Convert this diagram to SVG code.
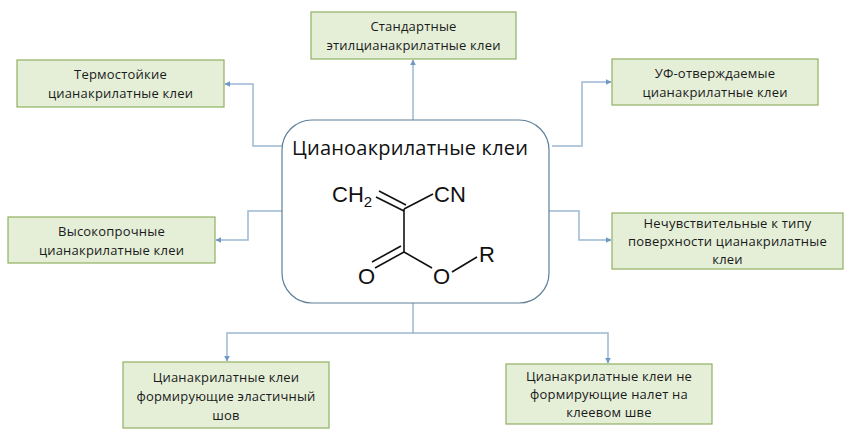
<svg xmlns="http://www.w3.org/2000/svg" width="853" height="438" viewBox="0 0 853 438">
<style>
.box{fill:#e5efd8;stroke:#8fb062;stroke-width:1.2}
.lbl{font-family:"Open Sans","Liberation Sans",sans-serif;font-size:13px;fill:#1a1a1a;text-anchor:middle;letter-spacing:0.2px}
.con{fill:none;stroke:#9cb8d3;stroke-width:1.5}
.chem{font-family:"Liberation Sans",Arial,sans-serif;font-size:22px;fill:#111}
.bond{stroke:#111;stroke-width:1.6;fill:none}
</style>
<defs>
<marker id="ah" viewBox="0 0 10 10" refX="9" refY="5" markerWidth="6" markerHeight="6" markerUnits="userSpaceOnUse" orient="auto">
<path d="M0,0 L10,5 L0,10 z" fill="#6e98c5"/>
</marker>
</defs>
<rect width="853" height="438" fill="#fff"/>
<g id="connectors">
<path class="con" d="M413,120 V60" marker-end="url(#ah)"/>
<path class="con" d="M282,146 H253 V84 H225" marker-end="url(#ah)"/>
<path class="con" d="M552,146 H582 V82 H611" marker-end="url(#ah)"/>
<path class="con" d="M549,211 H579 V240 H611" marker-end="url(#ah)"/>
<path class="con" d="M282,211 H248 V240 H216" marker-end="url(#ah)"/>
<path class="con" d="M413,303 V333 H227 V361" marker-end="url(#ah)"/>
<path class="con" d="M413,333 H608 V363" marker-end="url(#ah)"/>
</g>
<g id="center">
<rect x="282" y="120" width="267" height="183" rx="30" ry="30" fill="#fff" stroke="#5f7f98" stroke-width="1.2"/>
<text x="292" y="155" font-family="'Open Sans','Liberation Sans',sans-serif" font-size="20" fill="#111" textLength="236">Цианоакрилатные клеи</text>
<text class="chem" x="332" y="202">CH<tspan font-size="15" dy="5">2</tspan></text>
<text class="chem" x="434" y="202">CN</text>
<text class="chem" x="358" y="284">O</text>
<text class="chem" x="433" y="284">O</text>
<text class="chem" x="479" y="262">R</text>
<line class="bond" x1="376" y1="197" x2="404" y2="211"/>
<line class="bond" x1="379" y1="191" x2="406" y2="205"/>
<line class="bond" x1="404" y1="209" x2="433" y2="194"/>
<line class="bond" x1="404" y1="209" x2="404" y2="252"/>
<line class="bond" x1="404" y1="252" x2="375" y2="268"/>
<line class="bond" x1="401" y1="246" x2="372" y2="262"/>
<line class="bond" x1="404" y1="252" x2="432" y2="268"/>
<line class="bond" x1="452" y1="272" x2="477" y2="257"/>
</g>
<g id="n1">
<rect class="box" x="311" y="12" width="205" height="47"/>
<text class="lbl" x="413.5" y="31">Стандартные</text>
<text class="lbl" x="413.5" y="50">этилцианакрилатные клеи</text>
</g>
<g id="n2">
<rect class="box" x="17" y="60" width="207" height="47"/>
<text class="lbl" x="120.5" y="79">Термостойкие</text>
<text class="lbl" x="120.5" y="98">цианакрилатные клеи</text>
</g>
<g id="n3">
<rect class="box" x="612" y="59" width="206" height="46"/>
<text class="lbl" x="715" y="78">УФ-отверждаемые</text>
<text class="lbl" x="715" y="97">цианакрилатные клеи</text>
</g>
<g id="n4">
<rect class="box" x="612" y="213" width="231" height="56"/>
<text class="lbl" x="727.5" y="228">Нечувствительные к типу</text>
<text class="lbl" x="727.5" y="246">поверхности цианакрилатные</text>
<text class="lbl" x="727.5" y="264">клеи</text>
</g>
<g id="n5">
<rect class="box" x="8" y="217" width="207" height="46"/>
<text class="lbl" x="111.5" y="236">Высокопрочные</text>
<text class="lbl" x="111.5" y="255">цианакрилатные клеи</text>
</g>
<g id="n6">
<rect class="box" x="123" y="362" width="206" height="66"/>
<text class="lbl" x="226" y="382">Цианакрилатные клеи</text>
<text class="lbl" x="226" y="401">формирующие эластичный</text>
<text class="lbl" x="226" y="420">шов</text>
</g>
<g id="n7">
<rect class="box" x="506" y="364" width="206" height="60"/>
<text class="lbl" x="609" y="381">Цианакрилатные клеи не</text>
<text class="lbl" x="609" y="399">формирующие налет на</text>
<text class="lbl" x="609" y="417">клеевом шве</text>
</g>
</svg>
